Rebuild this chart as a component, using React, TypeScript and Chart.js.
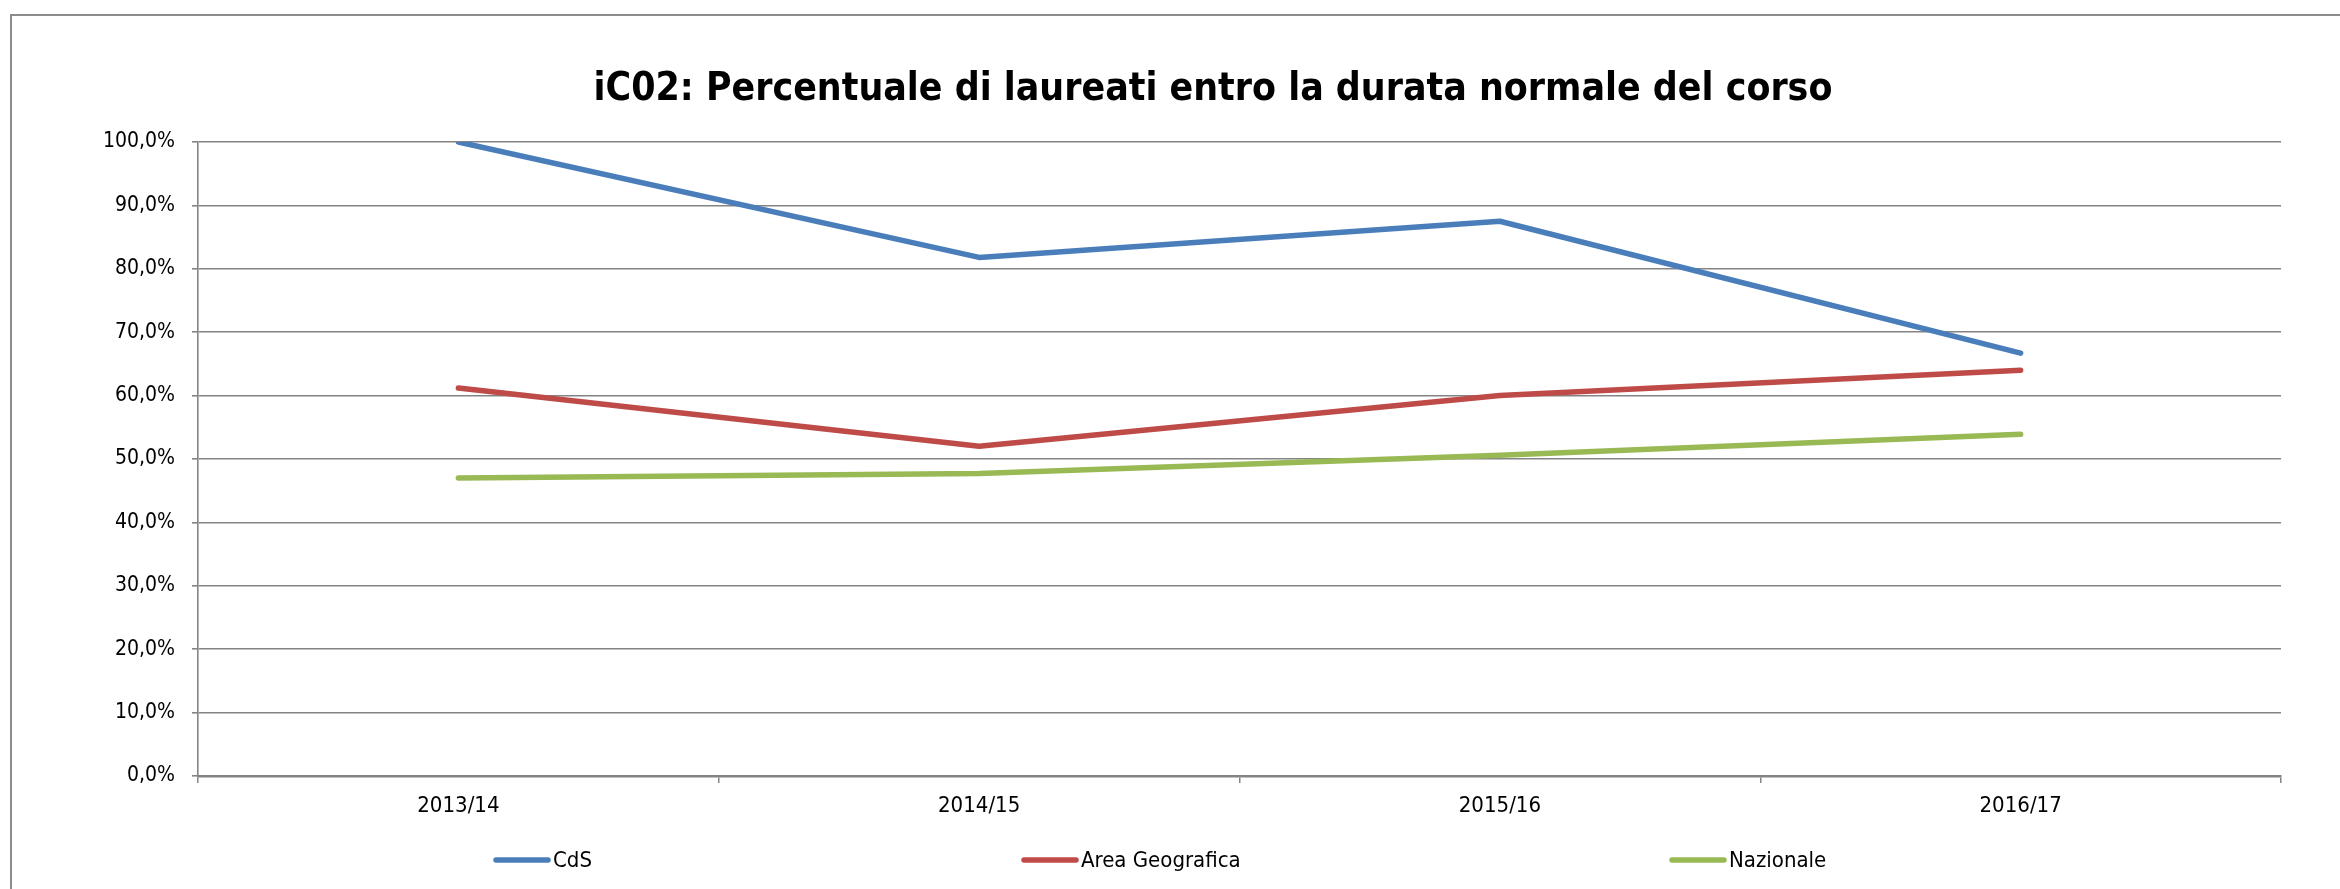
import React, { useEffect, useRef } from "react";
import { Chart, registerables } from "chart.js";

Chart.register(...registerables);

const TITLE = "iC02: Percentuale di laureati entro la durata normale del corso";
const CATEGORIES = ["2013/14", "2014/15", "2015/16", "2016/17"];
const SERIES_NAMES = ["CdS", "Area Geografica", "Nazionale"];
const CDS_VALUES = [100.0, 81.8, 87.5, 66.7];
const AREA_VALUES = [61.2, 52.0, 60.0, 64.0];
const NAZ_VALUES = [47.0, 47.7, 50.6, 53.9];
const SERIES_COLORS = ["#4A7EBB", "#BE4B48", "#98B954"];
const Y_MIN = 0;
const Y_MAX = 100;
const Y_STEP = 10;

const FONT = "'DejaVu Sans Condensed', 'Liberation Sans Narrow', 'DejaVu Sans', sans-serif";
const GRID = "#848484";

const W = 2340;
const H = 889;
const LEGEND_STARTS = [493, 1021, 1669];

const overlayPlugin = {
  id: "overlay",
  afterDraw(chart: any) {
    const ctx = chart.ctx as CanvasRenderingContext2D;
    ctx.save();
    // title
    let size = 40;
    ctx.font = `bold ${size}px ${FONT}`;
    const tw = ctx.measureText(TITLE).width;
    size = (size * 1239) / tw;
    ctx.font = `bold ${size}px ${FONT}`;
    ctx.fillStyle = "#000";
    ctx.textAlign = "center";
    ctx.textBaseline = "alphabetic";
    ctx.fillText(TITLE, 1213, 100);

    // legend
    ctx.font = `22px ${FONT}`;
    ctx.textAlign = "left";
    const lineLen = 58;
    const y = 860;
    chart.data.datasets.forEach((ds: any, i: number) => {
      const x = LEGEND_STARTS[i];
      ctx.strokeStyle = ds.borderColor;
      ctx.lineWidth = 5.5;
      ctx.lineCap = "round";
      ctx.beginPath();
      ctx.moveTo(x + 3, y);
      ctx.lineTo(x + lineLen - 3, y);
      ctx.stroke();
      ctx.fillStyle = "#000";
      ctx.fillText(ds.label, x + lineLen + 2, 867);
    });
    ctx.restore();
  },
};

export default function App() {
  const ref = useRef<HTMLCanvasElement | null>(null);

  useEffect(() => {
    if (!ref.current) return;
    const values = [CDS_VALUES, AREA_VALUES, NAZ_VALUES];
    const chart = new Chart(ref.current, {
      type: "line",
      data: {
        labels: CATEGORIES,
        datasets: SERIES_NAMES.map((name, i) => ({
          label: name,
          data: values[i],
          borderColor: SERIES_COLORS[i],
          backgroundColor: SERIES_COLORS[i],
          borderWidth: 5.5,
          pointRadius: 0,
          pointHoverRadius: 0,
          tension: 0,
          fill: false,
          borderCapStyle: "round",
          borderJoinStyle: "round",
        })),
      },
      options: {
        responsive: false,
        animation: false,
        devicePixelRatio: 1,
        layout: { padding: { left: 33, right: 59, top: 142, bottom: 0 } },
        plugins: {
          legend: { display: false },
          title: { display: false },
          tooltip: { enabled: false },
        },
        scales: {
          x: {
            type: "category",
            offset: true,
            grid: {
              offset: true,
              drawOnChartArea: false,
              drawTicks: true,
              tickLength: 7,
              color: GRID,
              lineWidth: 1.5,
            },
            border: { display: true, color: GRID, width: 2.5 },
            ticks: {
              color: "#000",
              font: { family: FONT, size: 22 },
              padding: 10,
              maxRotation: 0,
            },
            afterFit(scale: any) {
              scale.height = H - 776;
            },
          },
          y: {
            min: Y_MIN,
            max: Y_MAX,
            ticks: {
              stepSize: Y_STEP,
              color: "#000",
              font: { family: FONT, size: 21 },
              padding: 17,
              callback: (v: any) => Number(v).toFixed(1).replace(".", ",") + "%",
            },
            grid: {
              color: GRID,
              lineWidth: 1.6,
              tickLength: 6,
              drawTicks: true,
            },
            border: { display: true, color: GRID, width: 1.6 },
            afterFit(scale: any) {
              scale.width = 198 - 33;
            },
          },
        },
      },
      plugins: [overlayPlugin],
    });
    return () => chart.destroy();
  }, []);

  return (
    <div style={{ position: "fixed", left: 0, top: 0, width: W, height: H, background: "#fff", overflow: "hidden" }}>
      <div
        style={{
          position: "absolute",
          left: 10,
          top: 14,
          width: W,
          height: H,
          borderTop: "2px solid #8c8c8c",
          borderLeft: "2px solid #8c8c8c",
        }}
      />
      <canvas ref={ref} width={W} height={H} style={{ position: "absolute", left: 0, top: 0, width: W, height: H }} />
    </div>
  );
}
